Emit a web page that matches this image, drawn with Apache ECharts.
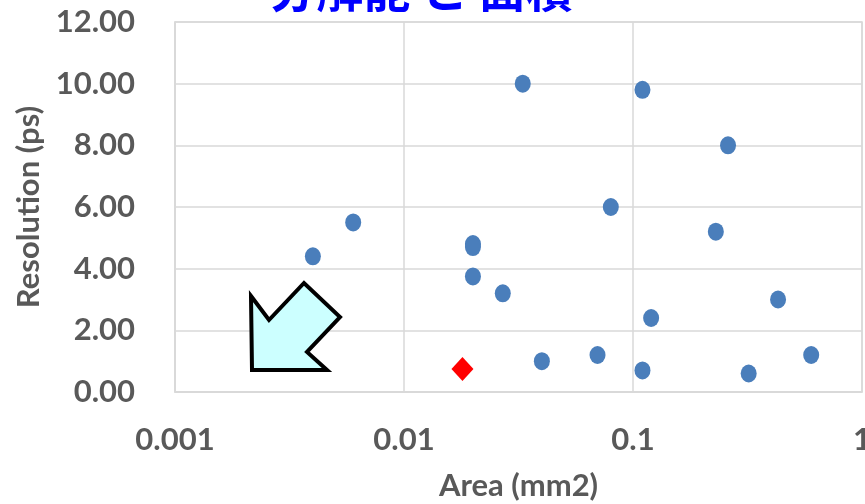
<!DOCTYPE html>
<html>
<head>
<meta charset="utf-8">
<script src="https://cdn.jsdelivr.net/npm/echarts@6/dist/echarts.min.js"></script>
<style>html,body{margin:0;padding:0;background:#fff}#c{width:865px;height:504px}</style>
</head>
<body>
<div id="c"></div>
<script>
// Data
const titleText = '分解能 と 面積';
const xAxisName = 'Area (mm2)';
const yAxisName = 'Resolution (ps)';
const areas = [0.004, 0.006, 0.033, 0.11, 0.26, 0.08, 0.23, 0.02, 0.02, 0.02, 0.027, 0.43, 0.12, 0.04, 0.07, 0.11, 0.32, 0.6];
const resolutions = [4.4, 5.5, 10.0, 9.8, 8.0, 6.0, 5.2, 4.8, 4.7, 3.75, 3.2, 3.0, 2.4, 1.0, 1.2, 0.7, 0.6, 1.2];
const highlightArea = [0.018];
const highlightRes = [0.75];
const xTicks = ['0.001', '0.01', '0.1', '1'];

const chart = echarts.init(document.getElementById('c'), null, {renderer: 'canvas'});
const labelFont = 'Lato, "Open Sans", sans-serif';
const grayText = '#595959';
const gridColor = '#d9d9d9';

chart.setOption({
  animation: false,
  backgroundColor: '#fff',
  title: {
    text: titleText,
    left: 416,
    textAlign: 'center',
    top: -39,
    textStyle: {color: '#0000ff', fontSize: 47, fontWeight: 'bold', fontFamily: '"Noto Sans CJK JP", sans-serif'}
  },
  grid: {left: 175, right: 3, top: 22, bottom: 112, containLabel: false, outerBoundsMode: 'none', show: true, borderColor: gridColor, borderWidth: 1.5},
  xAxis: {
    type: 'log', logBase: 10, min: 0.001, max: 1,
    name: xAxisName, nameLocation: 'middle', nameGap: 78,
    nameTextStyle: {color: grayText, fontSize: 31, fontWeight: 'bold', fontFamily: labelFont},
    axisLine: {show: true, lineStyle: {color: gridColor, width: 1.5}},
    axisTick: {show: false},
    splitLine: {show: true, lineStyle: {color: gridColor, width: 1.5}},
    minorSplitLine: {show: false},
    axisLabel: {
      margin: 32, color: grayText, fontSize: 31, fontWeight: 'bold', fontFamily: labelFont,
      formatter: function (v) {
        const i = Math.round(Math.log10(v)) + 3;
        return xTicks[i] !== undefined ? xTicks[i] : '';
      }
    }
  },
  yAxis: {
    type: 'value', min: 0, max: 12, interval: 2,
    name: yAxisName, nameLocation: 'middle', nameGap: 129,
    nameTextStyle: {color: grayText, fontSize: 31, fontWeight: 'bold', fontFamily: labelFont},
    axisLine: {show: true, lineStyle: {color: gridColor, width: 1.5}},
    axisTick: {show: false},
    splitLine: {show: true, lineStyle: {color: gridColor, width: 1.5}},
    axisLabel: {
      margin: 40, color: grayText, fontSize: 31, fontWeight: 'bold', fontFamily: labelFont,
      formatter: function (v) { return v.toFixed(2); }
    }
  },
  series: [
    {
      type: 'scatter',
      data: areas.map((a, i) => [a, resolutions[i]]),
      symbol: 'circle',
      symbolSize: [16, 18],
      itemStyle: {color: '#4a7ebb', opacity: 1},
      z: 3
    },
    {
      type: 'scatter',
      data: highlightArea.map((a, i) => [a, highlightRes[i]]),
      symbol: 'diamond',
      symbolSize: [22, 24],
      itemStyle: {color: '#ff0000', opacity: 1},
      z: 4
    }
  ],
  graphic: [
    {
      type: 'polygon',
      shape: {points: [[251, 296], [269, 320], [304, 283], [340, 317], [307, 352], [327, 370], [252, 370]]},
      style: {fill: '#ccffff', stroke: '#000', lineWidth: 4, lineJoin: 'miter'},
      z: 10
    }
  ]
});
</script>
</body>
</html>
